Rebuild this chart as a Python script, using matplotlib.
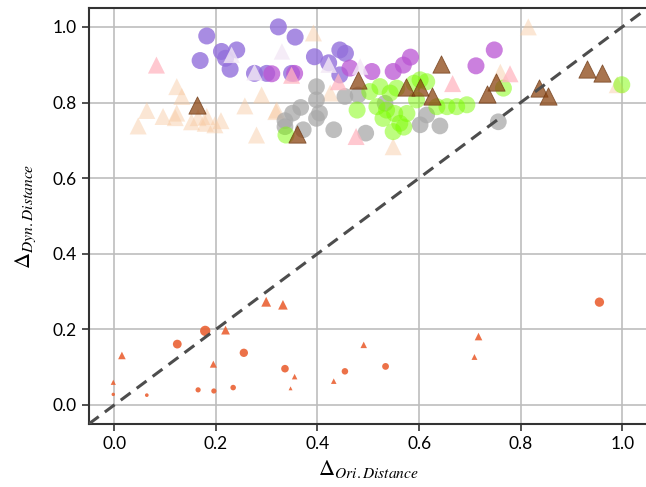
import matplotlib
matplotlib.use("Agg")
import matplotlib.pyplot as plt

plt.rcParams['font.family'] = ['Lato', 'DejaVu Sans']
plt.rcParams['mathtext.fontset'] = 'stix'

# peach triangles
peach_x = [0.123, 0.133, 0.064, 0.047, 0.096, 0.123, 0.120, 0.152, 0.182, 0.179,
           0.198, 0.290, 0.280, 0.257, 0.318, 0.549, 0.320, 0.425, 0.815, 0.760,
           0.990, 0.392, 0.165, 0.210]
peach_y = [0.842, 0.816, 0.779, 0.738, 0.763, 0.772, 0.760, 0.749, 0.763, 0.745,
           0.741, 0.820, 0.714, 0.791, 0.776, 0.683, 0.780, 0.825, 1.000, 0.880,
           0.847, 0.984, 0.760, 0.752]

# pink triangles
pink_x = [0.083, 0.441, 0.476, 0.666, 0.779, 0.349]
pink_y = [0.899, 0.855, 0.710, 0.850, 0.876, 0.872]

# pale lavender triangles
pale_x = [0.231, 0.276, 0.422, 0.484, 0.330]
pale_y = [0.926, 0.880, 0.900, 0.895, 0.935]

# purple circles
purple_x = [0.182, 0.169, 0.211, 0.241, 0.228, 0.219, 0.323, 0.356, 0.394, 0.444,
            0.276, 0.300, 0.349, 0.422, 0.444, 0.455]
purple_y = [0.976, 0.911, 0.935, 0.939, 0.888, 0.917, 1.000, 0.973, 0.921, 0.939,
            0.877, 0.877, 0.877, 0.905, 0.873, 0.930]

# orchid circles
orchid_x = [0.310, 0.464, 0.507, 0.549, 0.569, 0.583, 0.712, 0.748, 0.355]
orchid_y = [0.876, 0.891, 0.882, 0.882, 0.899, 0.920, 0.897, 0.939, 0.877]

# gray circles
gray_x = [0.398, 0.398, 0.367, 0.351, 0.336, 0.404, 0.398, 0.372, 0.336, 0.432,
          0.454, 0.480, 0.495, 0.533, 0.615, 0.602, 0.641, 0.756]
gray_y = [0.842, 0.807, 0.787, 0.772, 0.752, 0.772, 0.758, 0.728, 0.736, 0.728,
          0.816, 0.820, 0.719, 0.798, 0.767, 0.741, 0.738, 0.749]

# green circles
green_x = [0.338, 0.478, 0.503, 0.523, 0.543, 0.556, 0.517, 0.536, 0.552, 0.562,
           0.549, 0.576, 0.595, 0.615, 0.590, 0.635, 0.655, 0.674, 0.694, 0.529,
           0.766, 0.999, 0.602, 0.570]
green_y = [0.714, 0.780, 0.829, 0.842, 0.825, 0.838, 0.789, 0.780, 0.771, 0.745,
           0.723, 0.771, 0.807, 0.855, 0.851, 0.789, 0.789, 0.789, 0.794, 0.758,
           0.838, 0.847, 0.860, 0.735]

# brown triangles
brown_x = [0.163, 0.480, 0.643, 0.574, 0.602, 0.625, 0.359, 0.751, 0.733, 0.837,
           0.853, 0.931, 0.961]
brown_y = [0.794, 0.860, 0.901, 0.840, 0.840, 0.818, 0.717, 0.855, 0.823, 0.838,
           0.818, 0.888, 0.879]

# orange points, low region
oc_x = [0.179, 0.124, 0.255, 0.336, -0.002, 0.064, 0.165, 0.196, 0.234, 0.454, 0.534, 0.955]
oc_y = [0.196, 0.161, 0.138, 0.096, 0.028, 0.026, 0.040, 0.037, 0.046, 0.089, 0.102, 0.272]
oc_s = [55, 40, 36, 30, 6, 7, 14, 14, 16, 22, 24, 45]
ot_x = [0.299, 0.332, 0.219, 0.015, 0.195, 0.355, -0.002, 0.347, 0.432, 0.491, 0.717, 0.709]
ot_y = [0.273, 0.265, 0.198, 0.131, 0.108, 0.075, 0.060, 0.044, 0.063, 0.159, 0.181, 0.127]
ot_s = [50, 48, 40, 30, 26, 16, 14, 8, 16, 22, 30, 18]

fig = plt.figure(figsize=(6.46, 4.87), dpi=100)
ax = fig.add_axes([0.1376, 0.1296, 0.865, 0.854])

ax.scatter(peach_x, peach_y, marker='^', s=150, color='#f8c9a0', alpha=0.45, edgecolors='none', zorder=3)
ax.scatter(gray_x, gray_y, marker='o', s=145, color='#a9a9a9', alpha=0.75, edgecolors='none', zorder=3)
ax.scatter(purple_x, purple_y, marker='o', s=150, color='#9370db', alpha=0.8, edgecolors='none', zorder=3)
ax.scatter(orchid_x, orchid_y, marker='o', s=150, color='#ba55d3', alpha=0.75, edgecolors='none', zorder=3)
ax.scatter(green_x, green_y, marker='o', s=150, color='#7cfc00', alpha=0.5, edgecolors='none', zorder=3)
ax.scatter(pink_x, pink_y, marker='^', s=150, color='#ffb6c1', alpha=0.75, edgecolors='none', zorder=3)
ax.scatter(pale_x, pale_y, marker='^', s=140, color='#f3e8f6', alpha=0.8, edgecolors='none', zorder=3)
ax.scatter(brown_x, brown_y, marker='^', s=155, color='#8b4513', alpha=0.75, edgecolors='#6b3510', linewidths=0.6, zorder=4)
ax.scatter(oc_x, oc_y, marker='o', s=oc_s, color='#ea6234', alpha=0.9, edgecolors='none', zorder=4)
ax.scatter(ot_x, ot_y, marker='^', s=ot_s, color='#ea6234', alpha=0.9, edgecolors='none', zorder=4)

ax.plot([-0.05, 1.05], [-0.05, 1.05], linestyle='--', color='#4d4d4d', linewidth=2.2, dashes=(4, 2.5), zorder=5)

ax.set_xlim(-0.05, 1.05)
ax.set_ylim(-0.05, 1.05)
ticks = [0.0, 0.2, 0.4, 0.6, 0.8, 1.0]
ax.set_xticks(ticks)
ax.set_yticks(ticks)
ax.set_xticklabels(['0.0', '0.2', '0.4', '0.6', '0.8', '1.0'])
ax.set_yticklabels(['0.0', '0.2', '0.4', '0.6', '0.8', '1.0'])
ax.tick_params(labelsize=12.5, length=5, width=1.2, color='#333333', pad=4)
ax.grid(True, color='#bdbdbd', linewidth=1.2, zorder=0)
ax.set_axisbelow(True)
for sp in ax.spines.values():
    sp.set_color('#333333')
    sp.set_linewidth(1.5)

ax.set_xlabel(r'$\Delta_{Ori.Distance}$', fontsize=16, labelpad=4)
ax.set_ylabel(r'$\Delta_{Dyn.Distance}$', fontsize=16, labelpad=10)

fig.savefig('out.png', dpi=100)
